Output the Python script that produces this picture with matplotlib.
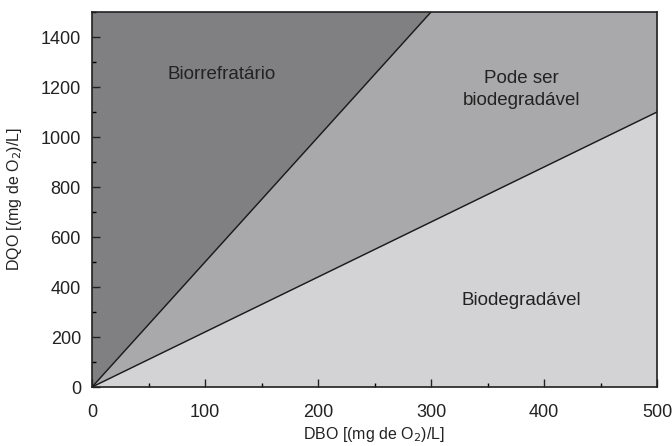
import numpy as np
import matplotlib
matplotlib.use("Agg")
from matplotlib import pyplot as plt
from matplotlib.ticker import MultipleLocator

plt.rcParams['font.family'] = ['Liberation Sans', 'DejaVu Sans']

# dados
dbo = [0, 500]
dqo_max = 1500
inclinacao_alta = 5.0     # DQO/DBO = 5
inclinacao_baixa = 2.2    # DQO/DBO = 2.2
rotulos = ["Biorrefratário", "Pode ser\nbiodegradável", "Biodegradável"]
pos_rotulos = [(115, 1250), (380, 1190), (380, 345)]

cor_escura = '#808083'
cor_media = '#a9a9ab'
cor_clara = '#d3d3d5'

fig = plt.figure(figsize=(6.72, 4.46), dpi=100)
ax = fig.add_axes([92/672, (446-387)/446, (657-92)/672, (387-12)/446])

x = np.array(dbo, dtype=float)
xs = np.array([0, dqo_max / inclinacao_alta, 500])
y_baixa = inclinacao_baixa * x

ax.fill_between(x, 0, dqo_max, color=cor_escura, lw=0)
ax.fill_between(xs, inclinacao_baixa * xs, np.minimum(inclinacao_alta * xs, dqo_max), color=cor_media, lw=0)
ax.fill_between(x, 0, y_baixa, color=cor_clara, lw=0)
ax.plot(xs[:2], inclinacao_alta * xs[:2], color='#1a1a1a', lw=1)
ax.plot(x, y_baixa, color='#1a1a1a', lw=1)

for t, (px, py) in zip(rotulos, pos_rotulos):
    ax.text(px, py, t, ha='center', va='center', fontsize=13.5, color='#222222', linespacing=1.35)

ax.set_xlim(0, 500)
ax.set_ylim(0, dqo_max)
ax.xaxis.set_major_locator(MultipleLocator(100))
ax.xaxis.set_minor_locator(MultipleLocator(50))
ax.yaxis.set_major_locator(MultipleLocator(200))
ax.yaxis.set_minor_locator(MultipleLocator(100))
ax.tick_params(which='major', direction='in', length=6, width=1, labelsize=13, colors='#222222')
ax.tick_params(which='minor', direction='in', length=3, width=1)
ax.tick_params(axis='x', pad=12)
ax.tick_params(axis='y', pad=8)
for s in ax.spines.values():
    s.set_linewidth(1.2)
    s.set_color('#222222')

ax.set_xlabel("DBO [(mg de O$_2$)/L]", fontsize=11.5, color='#222222')
ax.set_ylabel("DQO [(mg de O$_2$)/L]", fontsize=11.5, color='#222222')
ax.xaxis.set_label_coords(0.5, -0.102)
ax.yaxis.set_label_coords(-0.12, 0.5)

fig.savefig("out.png", dpi=100)
